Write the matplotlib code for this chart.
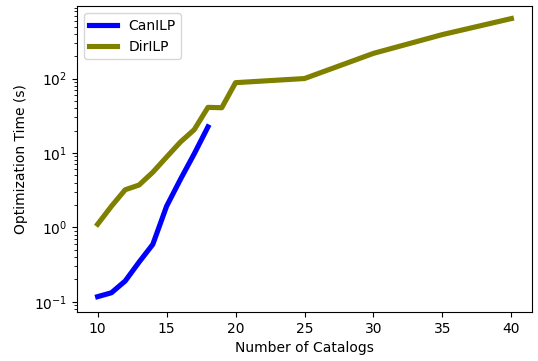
import matplotlib
matplotlib.use("Agg")
import matplotlib.pyplot as plt

can_x = [10, 11, 12, 13, 14, 15, 16, 17, 18]
can_y = [0.117, 0.132, 0.19, 0.34, 0.59, 1.92, 4.4, 9.7, 22.4]

dir_x = [10, 11, 12, 13, 14, 15, 16, 17, 18, 19, 20, 25, 30, 35, 40]
dir_y = [1.1, 1.92, 3.2, 3.7, 5.5, 8.8, 14, 20.5, 41.0, 40.5, 88, 100, 218, 390, 640]

fig = plt.figure(figsize=(5.38, 3.61), dpi=100)
ax = fig.add_axes([0.143, 0.136, 0.846, 0.847])
ax.plot(can_x, can_y, color="blue", lw=3.7, label="CanILP")
ax.plot(dir_x, dir_y, color="olive", lw=3.7, label="DirILP")
ax.set_yscale("log")
ax.set_ylim(0.073, 940)
ax.set_xticks([10, 15, 20, 25, 30, 35, 40])
ax.set_xlabel("Number of Catalogs")
ax.set_ylabel("Optimization Time (s)")
ax.legend(loc="upper left")
fig.savefig("out.png", dpi=100)
